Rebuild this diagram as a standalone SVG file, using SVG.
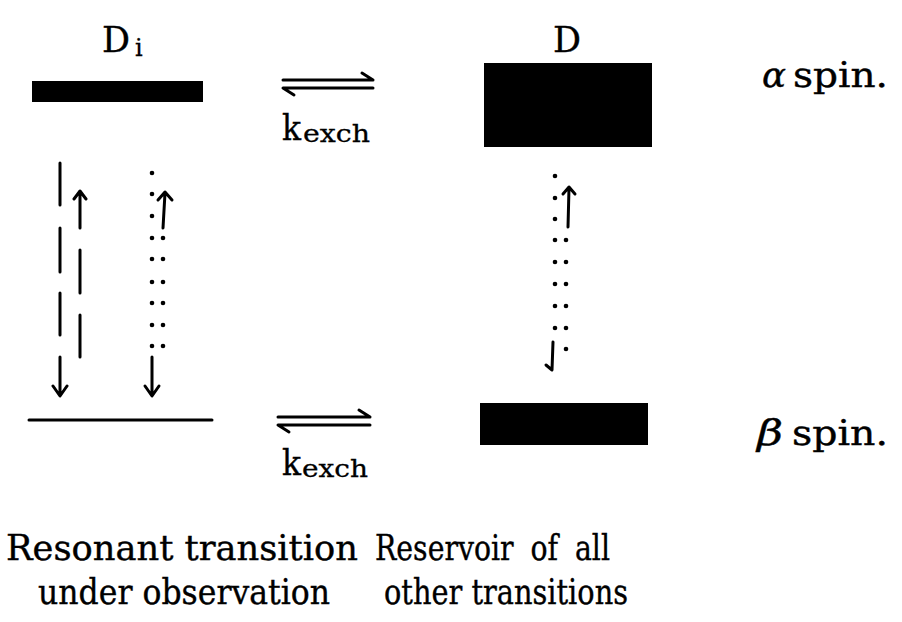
<svg xmlns="http://www.w3.org/2000/svg" width="902" height="622" viewBox="0 0 902 622">
  <style>
    .lbl { font-size: 36px; fill: #000; stroke: #000; stroke-width: 0.4; }
    .sub { font-size: 24px; fill: #000; stroke: #000; stroke-width: 0.3; }
    .it { font-style: italic; }
    .ln { stroke: #000; stroke-width: 3; fill: none; stroke-linecap: round; stroke-linejoin: round; }
    .dot { fill: #000; }
  </style>
  <rect width="902" height="622" fill="#fff"/>

  <g font-family="'DejaVu Serif', 'Liberation Serif', serif">
    <!-- observed resonance: upper and lower levels -->
    <g id="di-alpha">
      <text class="lbl" x="102" y="52" textLength="28" lengthAdjust="spacingAndGlyphs">D</text>
      <text class="sub" x="135" y="56">i</text>
      <rect x="32" y="81" width="171" height="21" fill="#000"/>
    </g>
    <g id="di-beta">
      <line class="ln" x1="29" y1="420" x2="212" y2="420" stroke-width="2.5"/>
    </g>

    <!-- reservoir levels -->
    <g id="d-alpha">
      <text class="lbl" x="553" y="52" textLength="28" lengthAdjust="spacingAndGlyphs">D</text>
      <rect x="484" y="63" width="168" height="84" fill="#000"/>
    </g>
    <g id="d-beta">
      <rect x="480" y="403" width="168" height="42" fill="#000"/>
    </g>

    <g id="alpha-label">
      <text class="lbl it" x="762" y="87" textLength="24" lengthAdjust="spacingAndGlyphs">α</text>
      <text class="lbl" x="793" y="87" textLength="95" lengthAdjust="spacingAndGlyphs">spin.</text>
    </g>
    <g id="beta-label">
      <text class="lbl it" x="757" y="445" textLength="26" lengthAdjust="spacingAndGlyphs">β</text>
      <text class="lbl" x="792" y="445" textLength="96" lengthAdjust="spacingAndGlyphs">spin.</text>
    </g>

    <g id="caption-left">
      <text class="lbl" x="6" y="560" textLength="352" lengthAdjust="spacingAndGlyphs">Resonant transition</text>
      <text class="lbl" x="38" y="604" textLength="292" lengthAdjust="spacingAndGlyphs">under observation</text>
    </g>
    <g id="caption-right">
      <text class="lbl" x="375" y="560" word-spacing="10" textLength="235" lengthAdjust="spacingAndGlyphs">Reservoir of all</text>
      <text class="lbl" x="384" y="604" textLength="244" lengthAdjust="spacingAndGlyphs">other transitions</text>
    </g>

    <g id="connectors">
      <!-- exchange equilibria -->
      <g id="exch-alpha">
        <path class="ln" d="M283 80 H373 L362 73"/>
        <path class="ln" d="M373 88 H283 L294 95"/>
        <text class="lbl" x="282" y="140" textLength="19" lengthAdjust="spacingAndGlyphs">k</text>
        <text class="sub" x="303" y="142" textLength="67" lengthAdjust="spacingAndGlyphs">exch</text>
      </g>
      <g id="exch-beta">
        <path class="ln" d="M278 417 H370 L359 410"/>
        <path class="ln" d="M370 425 H278 L289 432"/>
        <text class="lbl" x="282" y="475" textLength="19" lengthAdjust="spacingAndGlyphs">k</text>
        <text class="sub" x="302" y="477" textLength="66" lengthAdjust="spacingAndGlyphs">exch</text>
      </g>

      <!-- dashed transitions -->
      <g id="dashed-down">
        <path class="ln" d="M60 163 V205 M60 228 V272 M60 293 V335 M60 357 V395 M53 386 L60 396 L67 386"/>
      </g>
      <g id="dashed-up">
        <path class="ln" d="M80 192 V228 M80 250 V293 M80 315 V357 M74 199 L80 191 L86 199"/>
      </g>

      <!-- dotted transitions, observed line -->
      <g id="dotted-left" class="dot">
        <circle cx="152" cy="173" r="2.3"/><circle cx="152" cy="194" r="2.3"/>
        <circle cx="152" cy="216" r="2.3"/><circle cx="152" cy="238" r="2.3"/>
        <circle cx="152" cy="259" r="2.3"/><circle cx="152" cy="282" r="2.3"/>
        <circle cx="152" cy="303" r="2.3"/><circle cx="152" cy="325" r="2.3"/>
        <circle cx="152" cy="346" r="2.3"/>
        <circle cx="163" cy="238" r="2.3"/><circle cx="163" cy="259" r="2.3"/>
        <circle cx="163" cy="282" r="2.3"/><circle cx="163" cy="303" r="2.3"/>
        <circle cx="163" cy="325" r="2.3"/><circle cx="163" cy="346" r="2.3"/>
      </g>
      <path class="ln" d="M152 357 V395 M145 386 L152 396 L159 386"/>
      <path class="ln" d="M163 228 L165 193 M158 200 L165 192 L172 200"/>

      <!-- dotted transitions, reservoir -->
      <g id="dotted-right" class="dot">
        <circle cx="555" cy="176" r="2.3"/><circle cx="555" cy="198" r="2.3"/>
        <circle cx="555" cy="219" r="2.3"/><circle cx="555" cy="240" r="2.3"/>
        <circle cx="555" cy="262" r="2.3"/><circle cx="555" cy="284" r="2.3"/>
        <circle cx="555" cy="306" r="2.3"/><circle cx="555" cy="328" r="2.3"/>
        <circle cx="566" cy="240" r="2.3"/><circle cx="566" cy="262" r="2.3"/>
        <circle cx="566" cy="284" r="2.3"/><circle cx="566" cy="306" r="2.3"/>
        <circle cx="566" cy="328" r="2.3"/><circle cx="566" cy="349" r="2.3"/>
      </g>
      <path class="ln" d="M568 227 L569 188 M563 194 L569 187 L575 194"/>
      <path class="ln" d="M553 342 L552 370 M546 365 L552 370"/>
    </g>
  </g>
</svg>
